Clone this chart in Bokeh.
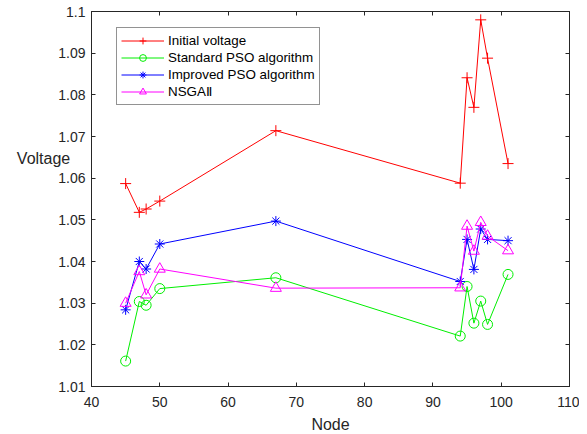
from bokeh.plotting import figure
from bokeh.models import LinearAxis, FixedTicker, Range1d
from bokeh.embed import file_html
from bokeh.resources import INLINE

# ---- data ----
nodes = [45, 47, 48, 50, 67, 94, 95, 96, 97, 98, 101]
initial_voltage = [1.0587, 1.0518, 1.0526, 1.0545, 1.0714, 1.0588, 1.0841, 1.0770, 1.0980, 1.0888, 1.0635]
standard_pso = [1.0161, 1.0304, 1.0295, 1.0335, 1.0361, 1.0221, 1.0340, 1.0252, 1.0305, 1.0249, 1.0369]
improved_pso = [1.0284, 1.0400, 1.0382, 1.0442, 1.0497, 1.0352, 1.0453, 1.0381, 1.0478, 1.0453, 1.0450]
nsga2 = [1.0300, 1.0376, 1.0320, 1.0382, 1.0336, 1.0337, 1.0485, 1.0425, 1.0494, 1.0461, 1.0426]

series_names = ["Initial voltage", "Standard PSO algorithm", "Improved PSO algorithm", "NSGA\u2161"]
x_ticks = [40, 50, 60, 70, 80, 90, 100, 110]
y_ticks = [1.01, 1.02, 1.03, 1.04, 1.05, 1.06, 1.07, 1.08, 1.09, 1.1]
y_tick_labels = ["1.01", "1.02", "1.03", "1.04", "1.05", "1.06", "1.07", "1.08", "1.09", "1.1"]
x_label = "Node"
y_label = "Voltage"

FONT = "Liberation Sans"
AX = "#262626"
FRAME_H = 375

p = figure(frame_width=478, frame_height=FRAME_H,
           min_border_left=91, min_border_right=10, min_border_top=11, min_border_bottom=40,
           x_range=Range1d(40, 110), y_range=Range1d(1.01, 1.1),
           output_backend="svg", toolbar_location=None)
p.xgrid.visible = False
p.ygrid.visible = False
p.outline_line_color = AX
p.outline_line_width = 1
p.background_fill_color = "white"
p.border_fill_color = "white"

xt = FixedTicker(ticks=x_ticks)
yt = FixedTicker(ticks=y_ticks)

def style_axis(ax, ticker, labels=True):
    ax.ticker = ticker
    ax.axis_line_color = AX
    ax.major_tick_line_color = AX
    ax.major_tick_in = 4
    ax.major_tick_out = 0
    ax.minor_tick_line_color = None
    ax.major_label_text_font = FONT
    ax.major_label_text_color = AX
    ax.major_label_text_font_size = "14px"
    if not labels:
        ax.major_label_overrides = {t: "" for t in ticker.ticks}
        ax.major_label_standoff = 0

style_axis(p.xaxis[0], xt)
style_axis(p.yaxis[0], yt)
p.xaxis[0].major_label_standoff = 10
p.yaxis[0].major_label_standoff = 6
p.yaxis[0].major_label_overrides = {t: s for t, s in zip(y_ticks, y_tick_labels)}
p.xaxis[0].axis_label = x_label
p.xaxis[0].axis_label_text_font = FONT
p.xaxis[0].axis_label_text_font_size = "16px"
p.xaxis[0].axis_label_text_font_style = "normal"
p.xaxis[0].axis_label_text_color = AX
p.xaxis[0].axis_label_standoff = 6

# horizontal y-axis title, raised above the middle by padding lines below it
p.yaxis[0].axis_label = y_label + "\n\u00a0\n\u00a0\n\u00a0\n\u00a0"
p.yaxis[0].axis_label_orientation = "horizontal"
p.yaxis[0].axis_label_text_font = FONT
p.yaxis[0].axis_label_text_font_size = "16px"
p.yaxis[0].axis_label_text_font_style = "normal"
p.yaxis[0].axis_label_text_color = AX
p.yaxis[0].axis_label_standoff = -15

top = LinearAxis()
style_axis(top, xt, labels=False)
p.add_layout(top, "above")
right = LinearAxis()
style_axis(right, yt, labels=False)
p.add_layout(right, "right")

colors = ["#ff0000", "#00ee00", "#0000ff", "#ff00ff"]
markers = ["cross", "circle", "asterisk", "triangle"]
sizes = [11, 10, 10, 11]
data = [initial_voltage, standard_pso, improved_pso, nsga2]

for name, c, m, s, ys in zip(series_names, colors, markers, sizes, data):
    p.line(nodes, ys, line_color=c, line_width=1, legend_label=name)
    p.scatter(nodes, ys, marker=m, size=s, line_color=c, fill_color=None,
              line_width=1, legend_label=name)

lg = p.legend[0]
lg.location = (25, 281)
lg.label_text_font = FONT
lg.label_text_font_size = "13.4px"
lg.label_text_color = "black"
lg.glyph_width = 43
lg.glyph_height = 17
lg.label_height = 17
lg.label_standoff = 4
lg.spacing = 0
lg.padding = 4
lg.margin = 0
lg.border_line_color = AX
lg.border_line_width = 1
lg.background_fill_color = "white"
lg.background_fill_alpha = 1.0

open("out.html", "w").write(file_html(p, INLINE))
